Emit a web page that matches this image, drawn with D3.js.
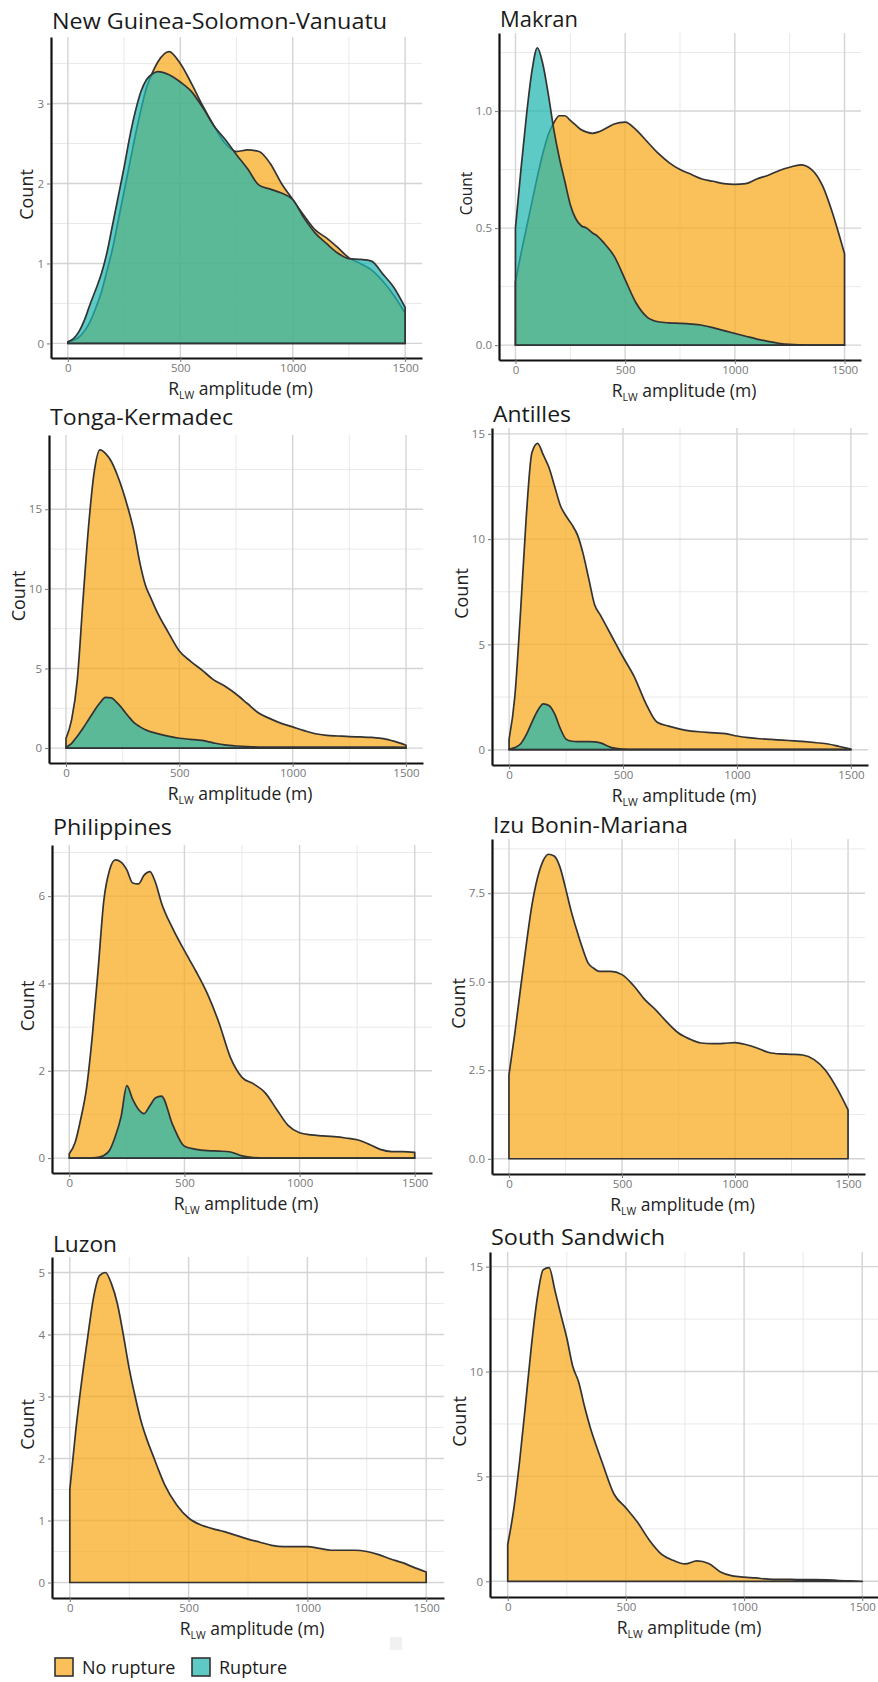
<!DOCTYPE html>
<html>
<head>
<meta charset="utf-8">
<script src="https://cdn.jsdelivr.net/npm/d3@7"></script>
<style>
  html, body { margin: 0; padding: 0; background: #fff; }
  svg { display: block; font-family: "Open Sans", "Noto Sans", sans-serif; }
</style>
</head>
<body>
<svg id="chart" width="878" height="1682"></svg>
<script>
// R_LW amplitude (m) at which each density curve is sampled
const amplitude = [0,25,50,75,100,125,150,175,200,225,250,275,300,325,350,375,400,
  450,500,550,600,650,700,750,800,850,900,950,1000,1050,1100,1150,1200,1250,1300,1350,1400,1450,1500];

// New Guinea-Solomon-Vanuatu
const ngNoRupture = [0.02,0.04,0.08,0.16,0.28,0.45,0.65,0.92,1.2,1.55,1.9,2.25,2.6,2.92,3.2,3.38,3.52,
  3.65,3.5,3.25,2.97,2.72,2.5,2.4,2.42,2.4,2.25,2.0,1.8,1.6,1.42,1.32,1.2,1.07,1.0,0.92,0.78,0.6,0.38];
const ngRupture = [0.02,0.06,0.15,0.3,0.5,0.68,0.88,1.15,1.5,1.85,2.2,2.58,2.9,3.15,3.3,3.37,3.4,
  3.36,3.27,3.15,2.95,2.72,2.55,2.36,2.18,1.98,1.93,1.88,1.8,1.57,1.38,1.25,1.13,1.06,1.05,1.03,0.87,0.7,0.45];

// Makran
const mkNoRupture = [0.27,0.39,0.5,0.61,0.72,0.82,0.9,0.95,0.98,0.98,0.96,0.94,0.92,0.91,0.905,0.91,0.92,
  0.945,0.953,0.92,0.87,0.82,0.78,0.75,0.73,0.71,0.7,0.69,0.687,0.69,0.71,0.725,0.745,0.76,0.77,0.75,0.68,0.55,0.39];
const mkRupture = [0.5,0.75,0.98,1.17,1.27,1.2,1.07,0.92,0.8,0.7,0.6,0.54,0.51,0.5,0.48,0.465,0.44,
  0.38,0.28,0.18,0.12,0.1,0.095,0.093,0.09,0.085,0.075,0.062,0.05,0.038,0.026,0.016,0.008,0.003,0.001,0,0,0,0];

// Tonga-Kermadec
const tkNoRupture = [0.6,1.8,4.3,9.3,14.0,17.4,18.73,18.5,18.0,17.2,16.2,15.0,13.6,11.7,10.25,9.4,8.6,
  7.3,6.1,5.45,4.9,4.3,3.9,3.4,2.8,2.2,1.85,1.55,1.33,1.1,0.9,0.8,0.76,0.72,0.7,0.67,0.6,0.42,0.18];
const tkRupture = [0.05,0.3,0.75,1.25,1.8,2.35,2.85,3.18,3.15,2.85,2.45,2.0,1.6,1.35,1.15,1.02,0.92,
  0.75,0.62,0.55,0.48,0.33,0.2,0.13,0.09,0.07,0.06,0.06,0.06,0.06,0.06,0.06,0.06,0.06,0.06,0.06,0.06,0.06,0.05];

// Antilles
const anNoRupture = [0.5,2.5,6.5,11.0,14.1,14.55,14.0,13.4,12.5,11.6,11.1,10.7,10.2,9.3,8.1,6.9,6.4,
  5.4,4.4,3.45,2.2,1.3,1.12,0.98,0.88,0.84,0.8,0.76,0.65,0.57,0.52,0.49,0.45,0.42,0.38,0.33,0.27,0.15,0.03];
const anRupture = [0.02,0.1,0.27,0.7,1.3,1.85,2.18,2.1,1.7,1.0,0.5,0.4,0.38,0.38,0.38,0.37,0.32,
  0.1,0.03,0.01,0.01,0.01,0.01,0.01,0.01,0.01,0.01,0.01,0.01,0.01,0.01,0.01,0.01,0.01,0.01,0.01,0.01,0.01,0];

// Philippines
const phNoRupture = [0.1,0.35,0.9,1.6,2.8,4.3,5.9,6.6,6.83,6.78,6.6,6.3,6.28,6.48,6.56,6.3,5.85,
  5.25,4.75,4.28,3.76,3.1,2.3,1.85,1.7,1.5,1.12,0.75,0.58,0.53,0.51,0.49,0.46,0.42,0.32,0.2,0.15,0.15,0.13];
const phRupture = [0,0,0,0,0.005,0.02,0.06,0.18,0.5,0.95,1.66,1.35,1.12,1.02,1.2,1.38,1.42,
  0.75,0.27,0.2,0.17,0.16,0.14,0.05,0.01,0,0,0,0,0,0,0,0,0,0,0,0,0,0];

// Izu Bonin-Mariana
const izNoRupture = [2.37,3.5,4.75,5.97,7.1,7.9,8.4,8.6,8.55,8.25,7.65,7.0,6.45,5.95,5.53,5.38,5.29,
  5.29,5.2,4.9,4.5,4.2,3.85,3.55,3.38,3.27,3.25,3.26,3.28,3.22,3.12,3.0,2.96,2.95,2.93,2.8,2.5,2.0,1.38];

// Luzon
const luNoRupture = [1.5,2.45,3.25,3.95,4.6,4.95,5.0,4.82,4.5,4.0,3.45,3.0,2.6,2.3,2.05,1.8,1.57,
  1.25,1.04,0.93,0.87,0.82,0.76,0.7,0.65,0.6,0.58,0.58,0.58,0.55,0.52,0.52,0.52,0.5,0.45,0.38,0.32,0.24,0.17];

// South Sandwich
const ssNoRupture = [1.75,3.4,5.7,8.4,11.2,13.5,14.85,14.95,13.85,12.7,11.6,10.25,9.5,8.33,7.3,6.45,5.65,
  4.15,3.5,2.8,1.95,1.3,1.0,0.83,0.97,0.85,0.45,0.26,0.2,0.16,0.1,0.09,0.09,0.08,0.08,0.07,0.04,0.02,0];

// Axis breaks and labels
const xTicks = [0, 500, 1000, 1500];
const xTickLabels = ["0", "500", "1000", "1500"];
const xMinor = [250, 750, 1250];
const ngTicks = [0, 1, 2, 3],        ngTickLabels = ["0", "1", "2", "3"];
const mkTicks = [0, 0.5, 1],         mkTickLabels = ["0.0", "0.5", "1.0"];
const tkTicks = [0, 5, 10, 15],      tkTickLabels = ["0", "5", "10", "15"];
const anTicks = [0, 5, 10, 15],      anTickLabels = ["0", "5", "10", "15"];
const phTicks = [0, 2, 4, 6],        phTickLabels = ["0", "2", "4", "6"];
const izTicks = [0, 2.5, 5, 7.5],    izTickLabels = ["0.0", "2.5", "5.0", "7.5"];
const luTicks = [0, 1, 2, 3, 4, 5],  luTickLabels = ["0", "1", "2", "3", "4", "5"];
const ssTicks = [0, 5, 10, 15],      ssTickLabels = ["0", "5", "10", "15"];

const titles = ["New Guinea-Solomon-Vanuatu", "Makran", "Tonga-Kermadec", "Antilles",
  "Philippines", "Izu Bonin-Mariana", "Luzon", "South Sandwich"];
const legendLabels = ["No rupture", "Rupture"];

const panels = [
  { title: titles[0], noRupture: ngNoRupture, rupture: ngRupture, ticks: ngTicks, labels: ngTickLabels },
  { title: titles[1], noRupture: mkNoRupture, rupture: mkRupture, ticks: mkTicks, labels: mkTickLabels },
  { title: titles[2], noRupture: tkNoRupture, rupture: tkRupture, ticks: tkTicks, labels: tkTickLabels },
  { title: titles[3], noRupture: anNoRupture, rupture: anRupture, ticks: anTicks, labels: anTickLabels },
  { title: titles[4], noRupture: phNoRupture, rupture: phRupture, ticks: phTicks, labels: phTickLabels },
  { title: titles[5], noRupture: izNoRupture, rupture: null, ticks: izTicks, labels: izTickLabels },
  { title: titles[6], noRupture: luNoRupture, rupture: null, ticks: luTicks, labels: luTickLabels },
  { title: titles[7], noRupture: ssNoRupture, rupture: null, ticks: ssTicks, labels: ssTickLabels }
];

// Panel rectangles (pixels) and title placement
const boxes = [
  { left: 51,  top: 37,   right: 422, bottom: 358,  titleY: 29,   titleW: 335, countSize: 18 },
  { left: 499, top: 33,   right: 861, bottom: 360,  titleY: 27,   titleW: 78,  countSize: 15.5 },
  { left: 49,  top: 435,  right: 423, bottom: 763,  titleY: 425,  titleW: 183, countSize: 18 },
  { left: 492, top: 428,  right: 868, bottom: 765,  titleY: 422,  titleW: 78,  countSize: 18 },
  { left: 52,  top: 845,  right: 432, bottom: 1173, titleY: 835,  titleW: 119, countSize: 18 },
  { left: 492, top: 839,  right: 865, bottom: 1174, titleY: 833,  titleW: 195, countSize: 18 },
  { left: 52,  top: 1257, right: 444, bottom: 1598, titleY: 1252, titleW: 64,  countSize: 18 },
  { left: 490, top: 1252, right: 880, bottom: 1597, titleY: 1245, titleW: 174, countSize: 18 }
];

const COLORS = {
  noRupture: "#F8A91A",
  rupture: "#1FB5B0",
  outline: "#333333",
  gridMajor: "#d4d4d4",
  gridMinor: "#e9e9e9",
  tick: "#777777"
};
const FILL_OPACITY = 0.72;

const svg = d3.select("#chart");

panels.forEach((p, i) => {
  const b = boxes[i];
  const g = svg.append("g").attr("class", "panel");

  const x = d3.scaleLinear().domain([-75, 1575]).range([b.left, b.right]);
  const yMax = d3.max([...p.noRupture, ...(p.rupture || [])]);
  const y = d3.scaleLinear().domain([-0.05 * yMax, 1.05 * yMax]).range([b.bottom, b.top]);

  // Grid: minor breaks halfway between majors
  const step = p.ticks[1] - p.ticks[0];
  const yMinor = p.ticks.map(t => t + step / 2).filter(v => v <= y.domain()[1]);

  g.append("g").selectAll("line").data(xMinor).join("line")
    .attr("x1", d => x(d)).attr("x2", d => x(d))
    .attr("y1", b.top).attr("y2", b.bottom)
    .attr("stroke", COLORS.gridMinor).attr("stroke-width", 1);
  g.append("g").selectAll("line").data(yMinor).join("line")
    .attr("x1", b.left).attr("x2", b.right)
    .attr("y1", d => y(d)).attr("y2", d => y(d))
    .attr("stroke", COLORS.gridMinor).attr("stroke-width", 1);
  g.append("g").selectAll("line").data(xTicks).join("line")
    .attr("x1", d => x(d)).attr("x2", d => x(d))
    .attr("y1", b.top).attr("y2", b.bottom)
    .attr("stroke", COLORS.gridMajor).attr("stroke-width", 1.4);
  g.append("g").selectAll("line").data(p.ticks).join("line")
    .attr("x1", b.left).attr("x2", b.right)
    .attr("y1", d => y(d)).attr("y2", d => y(d))
    .attr("stroke", COLORS.gridMajor).attr("stroke-width", 1.4);

  // Density areas
  const area = d3.area()
    .x((d, k) => x(amplitude[k]))
    .y0(y(0))
    .y1(d => y(d))
    .curve(d3.curveMonotoneX);

  g.append("path")
    .datum(p.noRupture)
    .attr("d", area)
    .attr("fill", COLORS.noRupture).attr("fill-opacity", FILL_OPACITY)
    .attr("stroke", COLORS.outline).attr("stroke-width", 1.7)
    .attr("stroke-linejoin", "round");

  if (p.rupture) {
    g.append("path")
      .datum(p.rupture)
      .attr("d", area)
      .attr("fill", COLORS.rupture).attr("fill-opacity", FILL_OPACITY)
      .attr("stroke", COLORS.outline).attr("stroke-width", 1.7)
      .attr("stroke-linejoin", "round");
  }

  // Axes
  const xAxis = d3.axisBottom(x).tickValues(xTicks).tickFormat((d, k) => xTickLabels[k])
    .tickSize(4).tickSizeOuter(0).tickPadding(2);
  const yAxis = d3.axisLeft(y).tickValues(p.ticks).tickFormat((d, k) => p.labels[k])
    .tickSize(4).tickSizeOuter(0).tickPadding(3);

  const gx = g.append("g").attr("transform", `translate(0,${b.bottom})`).call(xAxis);
  const gy = g.append("g").attr("transform", `translate(${b.left},0)`).call(yAxis);

  [gx, gy].forEach(ax => {
    ax.select(".domain").attr("stroke", "#111").attr("stroke-width", 2.2);
    ax.selectAll(".tick line").attr("stroke", COLORS.tick).attr("stroke-width", 1);
    ax.selectAll(".tick text").attr("fill", COLORS.tick)
      .style("font-size", "11.5px").style("font-family", "'Open Sans', sans-serif");
  });

  // Title
  g.append("text")
    .attr("x", b.left + 1).attr("y", b.titleY)
    .attr("textLength", b.titleW).attr("lengthAdjust", "spacingAndGlyphs")
    .style("font-size", "22px").attr("fill", "#1a1a1a")
    .text(p.title);

  // x-axis title with subscript
  const xt = g.append("text")
    .attr("x", (b.left + b.right) / 2 + 4).attr("y", b.bottom + 37)
    .attr("text-anchor", "middle").attr("fill", "#222")
    .style("font-size", "17.5px");
  xt.append("tspan").text("R");
  xt.append("tspan").attr("dy", 4).style("font-size", "10.5px").text("LW");
  xt.append("tspan").attr("dy", -4).text(" amplitude (m)");

  // y-axis title, placed just outside the tick labels
  const bb = gy.node().getBBox();
  const cx = b.left + bb.x - 4;
  const cy = (b.top + b.bottom) / 2 - 3;
  g.append("text")
    .attr("transform", `translate(${cx},${cy}) rotate(-90)`)
    .attr("text-anchor", "middle").attr("fill", "#222")
    .style("font-size", b.countSize + "px")
    .text("Count");
});

// Legend
const legend = svg.append("g").attr("transform", "translate(55,1658)");
const legendFills = [COLORS.noRupture, COLORS.rupture];
const legendX = [0, 137];
legendLabels.forEach((lab, i) => {
  legend.append("rect")
    .attr("x", legendX[i]).attr("y", 0).attr("width", 18).attr("height", 18)
    .attr("fill", "#fff");
  legend.append("rect")
    .attr("x", legendX[i]).attr("y", 0).attr("width", 18).attr("height", 18)
    .attr("fill", legendFills[i]).attr("fill-opacity", FILL_OPACITY)
    .attr("stroke", COLORS.outline).attr("stroke-width", 1.6);
  legend.append("text")
    .attr("x", legendX[i] + 27).attr("y", 16)
    .style("font-size", "18px").attr("fill", "#1a1a1a")
    .text(lab);
});

// faint square below the Luzon axis
svg.append("rect").attr("x", 390).attr("y", 1637).attr("width", 12).attr("height", 13)
  .attr("fill", "#f1f1f1");
</script>
</body>
</html>
